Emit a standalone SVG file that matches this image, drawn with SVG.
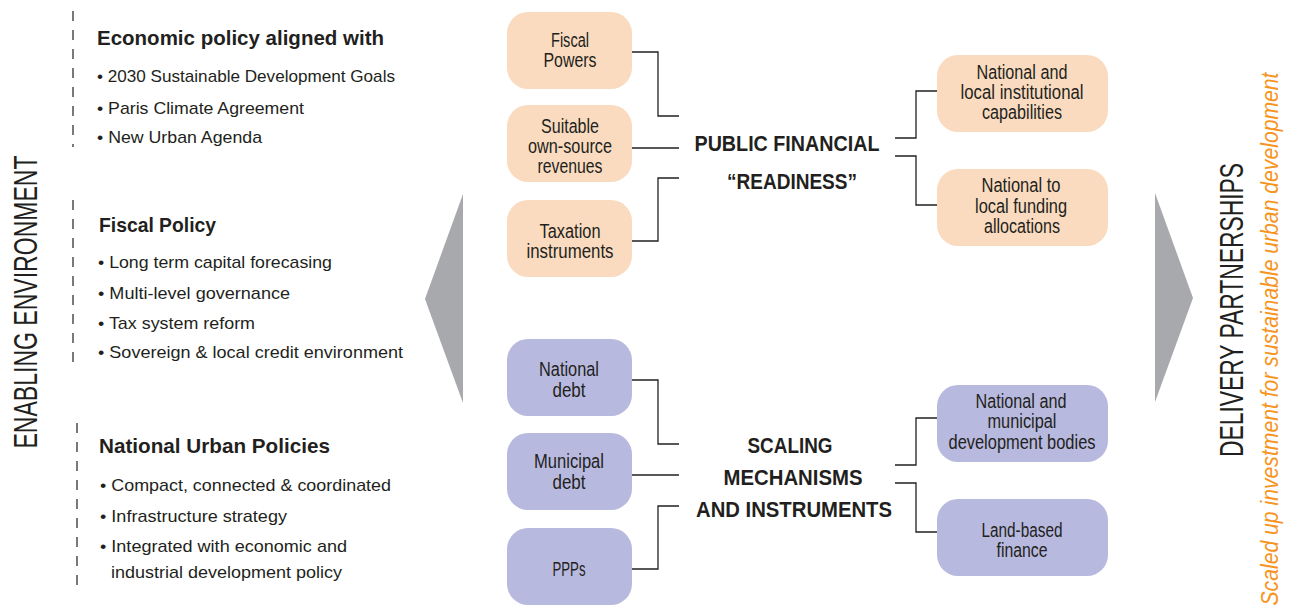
<svg xmlns="http://www.w3.org/2000/svg" width="1291" height="606" viewBox="0 0 1291 606">
<defs>
<style>
.bg{fill:#ffffff}
.dash{stroke:#231f20;stroke-width:1.2;stroke-dasharray:10 9;fill:none}
.tri{fill:#a7a9ac}
.ob{fill:#fadbbf}
.pb{fill:#b8b9df}
.conn{stroke:#231f20;stroke-width:1.3;fill:none}
.head{font-family:"Liberation Sans",Arial,sans-serif;font-weight:bold;font-size:21px;fill:#231f20}
.bul{font-family:"Liberation Sans",Arial,sans-serif;font-size:17px;fill:#231f20}
.lbl{font-family:"Liberation Sans",Arial,sans-serif;font-size:20px;fill:#231f20;text-anchor:middle}
.hub{font-family:"Liberation Sans",Arial,sans-serif;font-weight:bold;font-size:22px;fill:#231f20;text-anchor:middle}
.side{font-family:"Liberation Sans",Arial,sans-serif;font-size:34px;fill:#231f20;text-anchor:middle}
.orange{font-family:"Liberation Sans",Arial,sans-serif;font-style:italic;font-size:23px;fill:#f7941d;text-anchor:middle}
</style>
</defs>
<rect class="bg" x="0" y="0" width="1291" height="606"/>

<g id="enabling-environment">
<text class="side" transform="translate(37,302) rotate(-90)" textLength="293" lengthAdjust="spacingAndGlyphs">ENABLING ENVIRONMENT</text>
</g>

<g id="economic-policy">
<line class="dash" x1="73" y1="11" x2="73" y2="147"/>
<text class="head" x="97" y="45" textLength="287" lengthAdjust="spacingAndGlyphs">Economic policy aligned with</text>
<text class="bul" x="97" y="82" textLength="298" lengthAdjust="spacingAndGlyphs">• 2030 Sustainable Development Goals</text>
<text class="bul" x="97" y="114" textLength="207" lengthAdjust="spacingAndGlyphs">• Paris Climate Agreement</text>
<text class="bul" x="97" y="143" textLength="165" lengthAdjust="spacingAndGlyphs">• New Urban Agenda</text>
</g>

<g id="fiscal-policy">
<line class="dash" x1="73" y1="200" x2="73" y2="367"/>
<text class="head" x="99" y="232" textLength="117" lengthAdjust="spacingAndGlyphs">Fiscal Policy</text>
<text class="bul" x="98" y="268" textLength="234" lengthAdjust="spacingAndGlyphs">• Long term capital forecasing</text>
<text class="bul" x="98" y="299" textLength="192" lengthAdjust="spacingAndGlyphs">• Multi-level governance</text>
<text class="bul" x="98" y="329" textLength="157" lengthAdjust="spacingAndGlyphs">• Tax system reform</text>
<text class="bul" x="98" y="358" textLength="305" lengthAdjust="spacingAndGlyphs">• Sovereign &amp; local credit environment</text>
</g>

<g id="national-urban-policies">
<line class="dash" x1="77" y1="423" x2="77" y2="589"/>
<text class="head" x="99" y="453" textLength="231" lengthAdjust="spacingAndGlyphs">National Urban Policies</text>
<text class="bul" x="100" y="491" textLength="291" lengthAdjust="spacingAndGlyphs">• Compact, connected &amp; coordinated</text>
<text class="bul" x="100" y="522" textLength="187" lengthAdjust="spacingAndGlyphs">• Infrastructure strategy</text>
<text class="bul" x="100" y="552" textLength="247" lengthAdjust="spacingAndGlyphs">• Integrated with economic and</text>
<text class="bul" x="111" y="578" textLength="231" lengthAdjust="spacingAndGlyphs">industrial development policy</text>
</g>

<g id="left-arrow">
<polygon class="tri" points="463,194 463,403 425,299"/>
</g>

<g id="connectors">
<polyline class="conn" points="632,52 658,52 658,116 679,116"/>
<line class="conn" x1="632" y1="148" x2="679" y2="148"/>
<polyline class="conn" points="632,241 658,241 658,178 679,178"/>
<polyline class="conn" points="895,138 916,138 916,91 937,91"/>
<polyline class="conn" points="895,156 916,156 916,205 937,205"/>
<polyline class="conn" points="632,380 658,380 658,444 679,444"/>
<line class="conn" x1="632" y1="475" x2="679" y2="475"/>
<polyline class="conn" points="632,569 658,569 658,506 679,506"/>
<polyline class="conn" points="895,465 916,465 916,418 937,418"/>
<polyline class="conn" points="895,483 916,483 916,532 937,532"/>
</g>

<g id="fiscal-powers">
<rect class="ob" x="507" y="12" width="125" height="77" rx="21"/>
<text class="lbl" x="570" y="47" textLength="38" lengthAdjust="spacingAndGlyphs">Fiscal</text>
<text class="lbl" x="570" y="67" textLength="53" lengthAdjust="spacingAndGlyphs">Powers</text>
</g>
<g id="own-source-revenues">
<rect class="ob" x="507" y="105" width="125" height="77" rx="21"/>
<text class="lbl" x="570" y="133" textLength="58" lengthAdjust="spacingAndGlyphs">Suitable</text>
<text class="lbl" x="570" y="153" textLength="84" lengthAdjust="spacingAndGlyphs">own-source</text>
<text class="lbl" x="570" y="173" textLength="65" lengthAdjust="spacingAndGlyphs">revenues</text>
</g>
<g id="taxation-instruments">
<rect class="ob" x="507" y="200" width="125" height="77" rx="21"/>
<text class="lbl" x="570" y="238" textLength="61" lengthAdjust="spacingAndGlyphs">Taxation</text>
<text class="lbl" x="570" y="258" textLength="87" lengthAdjust="spacingAndGlyphs">instruments</text>
</g>

<g id="public-financial-readiness">
<text class="hub" x="787" y="151" textLength="185" lengthAdjust="spacingAndGlyphs">PUBLIC FINANCIAL</text>
<text class="hub" x="792" y="189" textLength="130" lengthAdjust="spacingAndGlyphs">“READINESS”</text>
</g>

<g id="institutional-capabilities">
<rect class="ob" x="937" y="55" width="171" height="77" rx="21"/>
<text class="lbl" x="1022" y="79" textLength="91" lengthAdjust="spacingAndGlyphs">National and</text>
<text class="lbl" x="1022" y="99" textLength="123" lengthAdjust="spacingAndGlyphs">local institutional</text>
<text class="lbl" x="1022" y="119" textLength="80" lengthAdjust="spacingAndGlyphs">capabilities</text>
</g>
<g id="funding-allocations">
<rect class="ob" x="937" y="169" width="171" height="77" rx="21"/>
<text class="lbl" x="1021" y="192" textLength="79" lengthAdjust="spacingAndGlyphs">National to</text>
<text class="lbl" x="1021" y="213" textLength="92" lengthAdjust="spacingAndGlyphs">local funding</text>
<text class="lbl" x="1022" y="233" textLength="76" lengthAdjust="spacingAndGlyphs">allocations</text>
</g>

<g id="national-debt">
<rect class="pb" x="507" y="339" width="125" height="77" rx="21"/>
<text class="lbl" x="569" y="376" textLength="60" lengthAdjust="spacingAndGlyphs">National</text>
<text class="lbl" x="569" y="397" textLength="33" lengthAdjust="spacingAndGlyphs">debt</text>
</g>
<g id="municipal-debt">
<rect class="pb" x="507" y="433" width="125" height="77" rx="21"/>
<text class="lbl" x="569" y="468" textLength="70" lengthAdjust="spacingAndGlyphs">Municipal</text>
<text class="lbl" x="569" y="489" textLength="33" lengthAdjust="spacingAndGlyphs">debt</text>
</g>
<g id="ppps">
<rect class="pb" x="507" y="528" width="125" height="77" rx="21"/>
<text class="lbl" x="569" y="576" textLength="33" lengthAdjust="spacingAndGlyphs">PPPs</text>
</g>

<g id="scaling-mechanisms">
<text class="hub" x="790" y="453" textLength="85" lengthAdjust="spacingAndGlyphs">SCALING</text>
<text class="hub" x="793" y="485" textLength="139" lengthAdjust="spacingAndGlyphs">MECHANISMS</text>
<text class="hub" x="794" y="517" textLength="196" lengthAdjust="spacingAndGlyphs">AND INSTRUMENTS</text>
</g>

<g id="development-bodies">
<rect class="pb" x="937" y="385" width="171" height="77" rx="21"/>
<text class="lbl" x="1021" y="408" textLength="91" lengthAdjust="spacingAndGlyphs">National and</text>
<text class="lbl" x="1022" y="428" textLength="69" lengthAdjust="spacingAndGlyphs">municipal</text>
<text class="lbl" x="1022" y="449" textLength="147" lengthAdjust="spacingAndGlyphs">development bodies</text>
</g>
<g id="land-based-finance">
<rect class="pb" x="937" y="499" width="171" height="77" rx="21"/>
<text class="lbl" x="1022" y="537" textLength="81" lengthAdjust="spacingAndGlyphs">Land-based</text>
<text class="lbl" x="1022" y="557" textLength="51" lengthAdjust="spacingAndGlyphs">finance</text>
</g>

<g id="right-arrow">
<polygon class="tri" points="1155,193 1155,402 1193,298"/>
</g>

<g id="delivery-partnerships">
<text class="side" transform="translate(1243,310) rotate(-90)" textLength="294" lengthAdjust="spacingAndGlyphs">DELIVERY PARTNERSHIPS</text>
<text class="orange" transform="translate(1278,339) rotate(-90)" textLength="533" lengthAdjust="spacingAndGlyphs">Scaled up investment for sustainable urban development</text>
</g>
</svg>
